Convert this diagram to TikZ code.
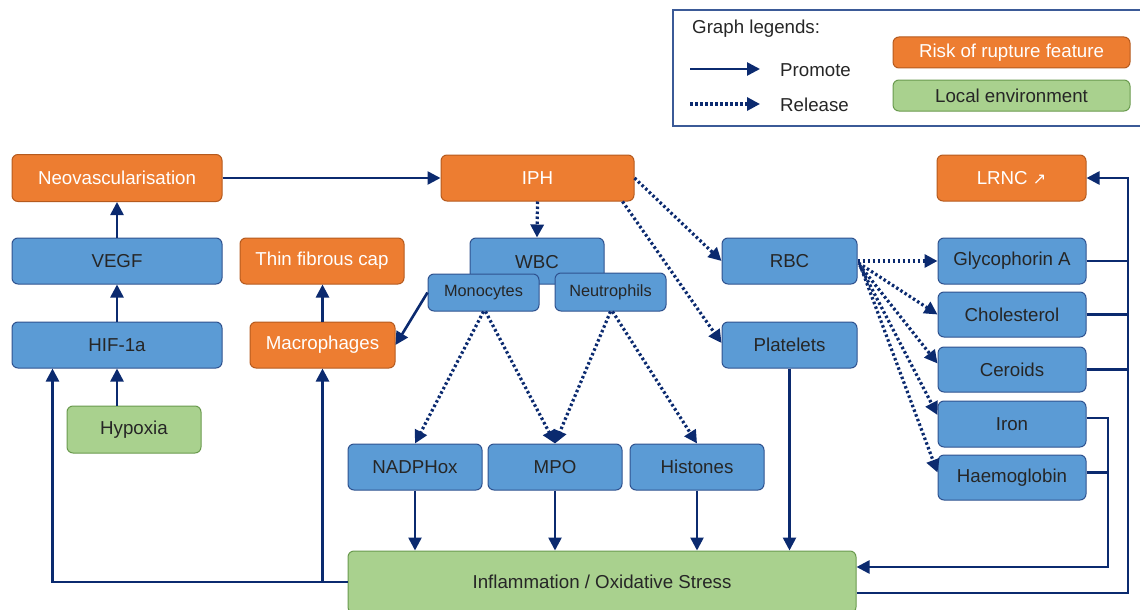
\documentclass[tikz,border=0pt]{standalone}
\usepackage{fontspec}
\setmainfont{Liberation Sans}
\newfontfamily\symfont{DejaVu Sans}
\usetikzlibrary{arrows.meta}
\definecolor{bfill}{HTML}{5B9BD5}
\definecolor{bdraw}{HTML}{2F528F}
\definecolor{ofill}{HTML}{ED7D31}
\definecolor{odraw}{HTML}{B55A1E}
\definecolor{gfill}{HTML}{A9D18E}
\definecolor{gdraw}{HTML}{6A9A4E}
\definecolor{navy}{HTML}{0B2A6F}
\definecolor{txt}{HTML}{262626}
\definecolor{legdraw}{HTML}{3B5A97}
\tikzset{
  box/.style={rounded corners=6pt, line width=1pt, inner sep=0pt, font=\fontsize{18.7}{21}\selectfont},
  bluebox/.style={box, fill=bfill, draw=bdraw, text=txt},
  orbox/.style={box, fill=ofill, draw=odraw, text=white},
  grbox/.style={box, fill=gfill, draw=gdraw, text=txt},
  subbox/.style={bluebox, font=\fontsize{16.3}{19}\selectfont},
  prom/.style={draw=navy, line width=2.6pt, -{Triangle[length=13pt,width=13pt]}},
  rel/.style={draw=navy, line width=3.2pt, dash pattern=on 2.5pt off 2.5pt, -{Triangle[length=13pt,width=13pt]}},
  plain/.style={draw=navy, line width=2.6pt},
  lbl/.style={anchor=west, inner sep=0pt, text=txt, font=\fontsize{18.7}{21}\selectfont},
}
\begin{document}
\begin{tikzpicture}[x=1pt,y=-1pt]
\useasboundingbox (0,0) rectangle (1140,610);
% legend
\draw[legdraw, line width=1.5pt] (673,10) rectangle (1150,126);
\node[lbl] (lgt) at (692,29) {Graph legends:};
\coordinate (pa) at (690,69);
\coordinate (pb) at (760,69);
\draw[prom] (pa) -- (pb);
\node[lbl] (lgp) at (780,70) {Promote};
\coordinate (ra) at (690,104);
\coordinate (rb) at (760,104);
\draw[rel] (ra) -- (rb);
\node[lbl] (lgr) at (780,105) {Release};
\node[orbox, minimum width=237pt, minimum height=31pt] (lgo) at (1011.5,52.5) {Risk of rupture feature\hspace{12pt}};
\node[grbox, minimum width=237pt, minimum height=31pt] (lgg) at (1011.5,95.5) {Local environment};
% nodes
\node[orbox, minimum width=210pt, minimum height=47pt] (neo) at (117,178) {Neovascularisation};
\node[orbox, minimum width=193pt, minimum height=46pt] (iph) at (537.5,178) {IPH};
\node[orbox, minimum width=149pt, minimum height=46pt] (lrnc) at (1011.5,178) {LRNC {\symfont\fontsize{16}{19}\selectfont ↗}};
\node[bluebox, minimum width=210pt, minimum height=46pt] (vegf) at (117,261) {VEGF};
\node[orbox, minimum width=164pt, minimum height=46pt] (thin) at (322,261) {Thin fibrous cap};
\node[bluebox, minimum width=134pt, minimum height=46pt] (wbc) at (537,261) {};
\node[bluebox, inner sep=0pt, draw=none, fill=none] (wbct) at (537,262) {WBC};
\node[subbox, minimum width=111pt, minimum height=37pt] (mono) at (483.5,292.5) {Monocytes};
\node[subbox, minimum width=111pt, minimum height=38pt] (neut) at (610.5,292) {Neutrophils};
\node[bluebox, minimum width=135pt, minimum height=46pt] (rbc) at (789.5,261) {RBC};
\node[bluebox, minimum width=148pt, minimum height=46pt] (gly) at (1012,261) {Glycophorin A};
\node[bluebox, minimum width=148pt, minimum height=45pt] (chol) at (1012,314.5) {Cholesterol};
\node[bluebox, minimum width=148pt, minimum height=45pt] (cer) at (1012,369.5) {Ceroids};
\node[bluebox, minimum width=148pt, minimum height=46pt] (iron) at (1012,424) {Iron};
\node[bluebox, minimum width=148pt, minimum height=45pt] (haem) at (1012,477.5) {Haemoglobin};
\node[bluebox, minimum width=210pt, minimum height=46pt] (hif) at (117,345) {HIF-1a};
\node[orbox, minimum width=145pt, minimum height=46pt] (mac) at (322.5,345) {Macrophages};
\node[grbox, minimum width=134pt, minimum height=47pt] (hyp) at (134,429.5) {Hypoxia};
\node[bluebox, minimum width=135pt, minimum height=46pt] (plat) at (789.5,345) {Platelets};
\node[bluebox, minimum width=134pt, minimum height=46pt] (nadph) at (415,467) {NADPHox};
\node[bluebox, minimum width=134pt, minimum height=46pt] (mpo) at (555,467) {MPO};
\node[bluebox, minimum width=134pt, minimum height=46pt] (hist) at (697,467) {Histones};
\node[grbox, minimum width=508pt, minimum height=62pt] (infl) at (602,582) {Inflammation / Oxidative Stress};
% left column
\draw[prom] (neo.east) -- (iph.west);
\draw[prom] (vegf.north) -- (neo.south);
\draw[prom] (hif.north) -- (vegf.south);
\draw[prom] (hyp.north -| hif.south) -- (hif.south);
\draw[prom] (infl.west) -| ([xshift=41pt]hif.south west);
\draw[prom] (infl.west -| mac.south) -- (mac.south);
\draw[prom] (mac.north) -- (mac.north |- thin.south);
\draw[prom] (mono.west) -- (mac.east);
% release from IPH
\draw[rel] (iph.south) -- (wbc.north);
\draw[rel] (iph.east) -- (rbc.west);
\draw[rel] ([xshift=-12pt]iph.south east) -- ([yshift=2pt]plat.west);
% WBC products
\draw[rel] (mono.south) -- (nadph.north);
\draw[rel] ([xshift=2pt]mono.south) -- (mpo.north);
\draw[rel] (neut.south) -- (mpo.north);
\draw[rel] ([xshift=2pt]neut.south) -- (hist.north);
\draw[prom] (nadph.south) -- (nadph.south |- infl.north);
\draw[prom] (mpo.south) -- (mpo.south |- infl.north);
\draw[prom] (hist.south) -- (hist.south |- infl.north);
\draw[prom] (plat.south) -- (plat.south |- infl.north);
% RBC fan
\draw[rel] (rbc.east) -- (gly.west);
\draw[rel] ([xshift=1pt,yshift=-2pt]rbc.east) -- (chol.west);
\draw[rel] ([xshift=2pt,yshift=-4pt]rbc.east) -- ([yshift=6pt]cer.west);
\draw[rel] ([xshift=3pt,yshift=-6pt]rbc.east) -- ([yshift=9pt]iron.west);
\draw[rel] ([xshift=4pt,yshift=-8pt]rbc.east) -- ([yshift=5pt]haem.west);
% right side
\coordinate (rr) at (1128,178);
\draw[prom] ([yshift=-11pt]infl.east) -| (rr) -- (lrnc.east);
\draw[plain] (gly.east) -- (gly.east -| rr);
\draw[plain] (chol.east) -- (chol.east -| rr);
\draw[plain] (cer.east) -- (cer.east -| rr);
\coordinate (ri) at (1108,418);
\draw[prom] ([yshift=6pt]iron.east) -- (ri) |- ([yshift=15pt]infl.east);
\draw[plain] ([yshift=5pt]haem.east) -- ([yshift=5pt]haem.east -| ri);
\end{tikzpicture}
\end{document}
